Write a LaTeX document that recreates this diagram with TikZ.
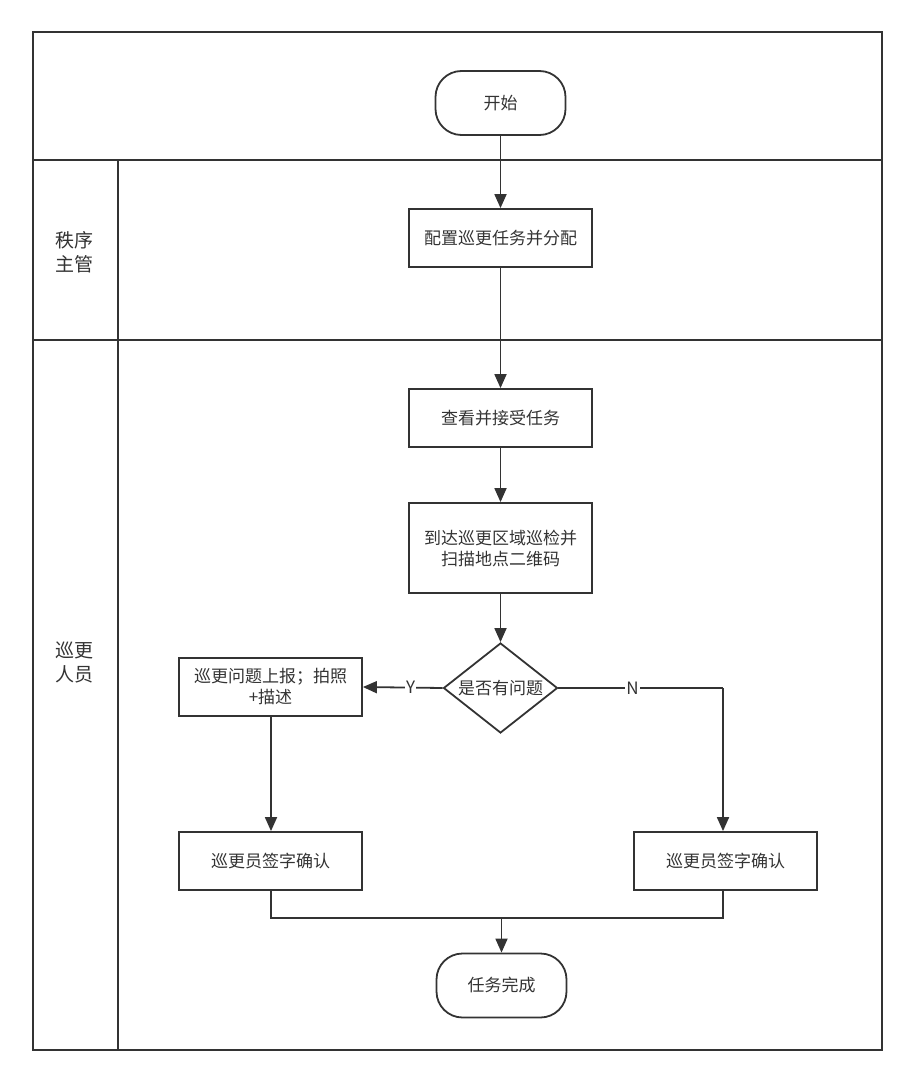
\documentclass[tikz,border=0pt]{standalone}
\usepackage{fontspec}
\setmainfont{Noto Sans CJK SC}
\usetikzlibrary{shapes.geometric,arrows.meta}
\definecolor{ink}{HTML}{333333}
\begin{document}
\begin{tikzpicture}[x=1pt,y=-1pt,
  every node/.style={font=\fontsize{17}{21}\selectfont, text=ink},
  frame/.style={draw=ink, line width=1.8pt},
  box/.style={draw=ink, line width=1.8pt, rectangle, minimum width=183pt, minimum height=58pt, align=center, inner sep=2pt},
  term/.style={draw=ink, line width=1.8pt, rectangle, rounded corners=26pt, minimum width=130pt, minimum height=64pt},
  dec/.style={draw=ink, line width=1.8pt, diamond, shape aspect=1.27, minimum width=114pt, minimum height=90pt, inner sep=0pt},
  conn/.style={draw=ink, line width=1.8pt},
  arr/.style={conn, -{Triangle[length=14pt,width=12pt]}},
  lbl/.style={fill=white, inner sep=1pt},
  lane/.style={align=center, font=\fontsize{19}{24}\selectfont}
]
\useasboundingbox (0,0) rectangle (915,1083);
% lanes
\draw[frame] (33,32) rectangle (882,1050);
\draw[frame] (33,160) -- (882,160);
\draw[frame] (33,340) -- (882,340);
\draw[frame] (118,160) -- (118,1050);
\node[lane] (l1) at (74,252) {秩序\\主管};
\node[lane] (l2) at (74,662) {巡更\\人员};
% nodes
\node[term] (start) at (500.5,103) {开始};
\node[box] (b1) at (500.5,238) {配置巡更任务并分配};
\node[box] (b2) at (500.5,418) {查看并接受任务};
\node[box, minimum height=90pt] (b3) at (500.5,548) {到达巡更区域巡检并\\扫描地点二维码};
\node[dec] (d) at (500.5,688) {是否有问题};
\node[box] (bl) at (270.5,687) {巡更问题上报；拍照\\+描述};
\node[box] (sl) at (270.5,861) {巡更员签字确认};
\node[box] (sr) at (725.5,861) {巡更员签字确认};
\node[term] (end) at (501.5,985.5) {任务完成};
\coordinate (nr) at (723,688);
\coordinate (jl) at (271,918);
\coordinate (jr) at (723,918);
\coordinate (jm) at (501.5,918);
% connectors
\draw[arr] (start) -- (b1);
\draw[arr] (b1) -- (b2);
\draw[arr] (b2) -- (b3);
\draw[arr] (b3) -- (d);
\draw[arr] (d.west) -- node[lbl, pos=0.4] {Y} (bl.east);
\draw[conn] (d.east) -- node[lbl, pos=0.45] {N} (nr);
\draw[arr] (nr) -- (nr |- sr.north);
\draw[arr] (bl.south -| jl) -- (sl.north -| jl);
\draw[conn] (sl.south -| jl) -- (jl) -- (jr) -- (sr.south -| jr);
\draw[arr] (jm) -- (end.north);
\end{tikzpicture}
\end{document}
